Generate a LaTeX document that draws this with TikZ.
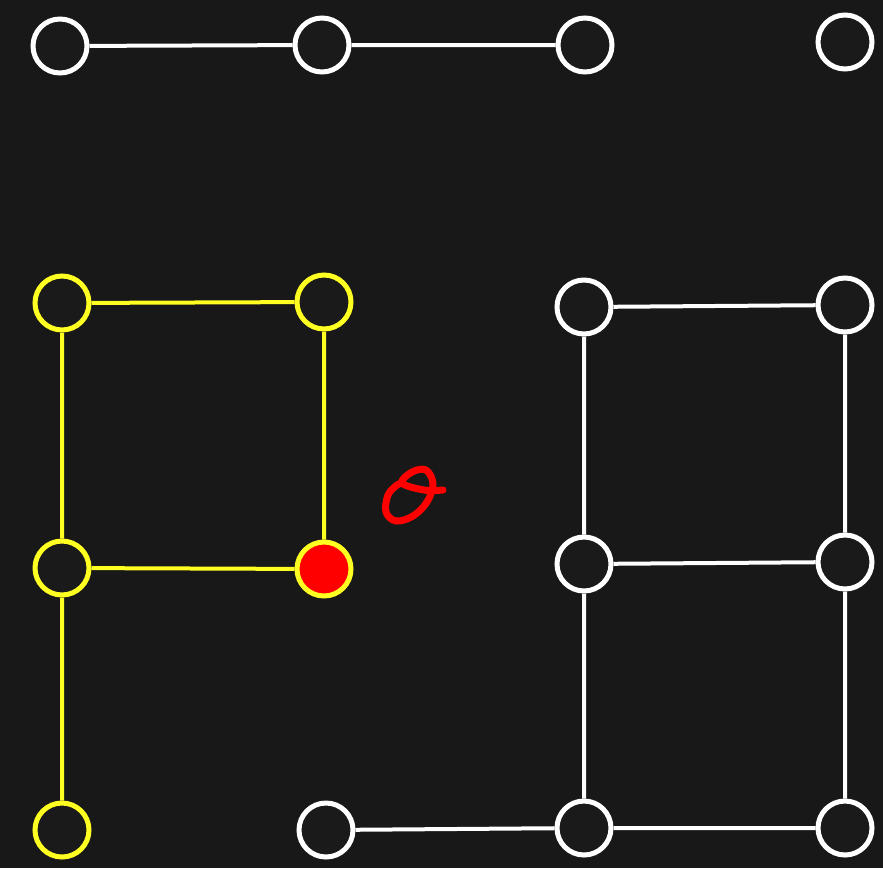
\documentclass[tikz,border=0pt]{standalone}
\begin{document}
\begin{tikzpicture}[x=1pt,y=-1pt,
  vtx/.style={circle,minimum size=54pt,inner sep=0pt,line width=5pt,fill=nodefill},
  wv/.style={vtx,draw=white},
  yv/.style={vtx,draw=hiyellow},
  wl/.style={draw=white,line width=4pt},
  yl/.style={draw=hiyellow,line width=4pt}]
\definecolor{bg}{HTML}{181818}
\definecolor{nodefill}{HTML}{1A1A1A}
\definecolor{hiyellow}{HTML}{FFFF22}
\fill[bg] (0,0) rectangle (883,868);
\useasboundingbox (0,0) rectangle (883,868);
% top row
\node[wv] (t1) at (60,46) {};
\node[wv] (t2) at (322,45) {};
\node[wv] (t3) at (585,45) {};
\node[wv] (t4) at (845,42) {};
% yellow group
\node[yv] (y1) at (62,303) {};
\node[yv] (y2) at (324,302) {};
\node[yv] (y3) at (62,568) {};
\node[yv,fill=red] (y4) at (324,569) {};
\node[yv] (y5) at (62,830) {};
% white right group
\node[wv] (w1) at (584,307) {};
\node[wv] (w2) at (845,305) {};
\node[wv] (w3) at (584,564) {};
\node[wv] (w4) at (845,562) {};
\node[wv] (w5) at (326,830) {};
\node[wv] (w6) at (584,828) {};
\node[wv] (w7) at (845,828) {};
\path[wl] (t1) -- (t2) (t2) -- (t3);
\path[yl] (y1) -- (y2) (y1) -- (y3) (y2) -- (y4) (y3) -- (y4) (y3) -- (y5);
\path[wl] (w1) -- (w2) (w1) -- (w3) (w2) -- (w4) (w3) -- (w4)
  (w3) -- (w6) (w4) -- (w7) (w5) -- (w6) (w6) -- (w7);
% red scribble
\draw[red,line width=7pt,line cap=round,line join=round]
  plot[smooth,tension=0.6] coordinates {(443,490) (424,490) (402,483) (412,472) (426,470) (433,484) (427,502) (413,516) (396,521) (386,512) (388,495) (397,485) (402,483)};
\end{tikzpicture}
\end{document}
